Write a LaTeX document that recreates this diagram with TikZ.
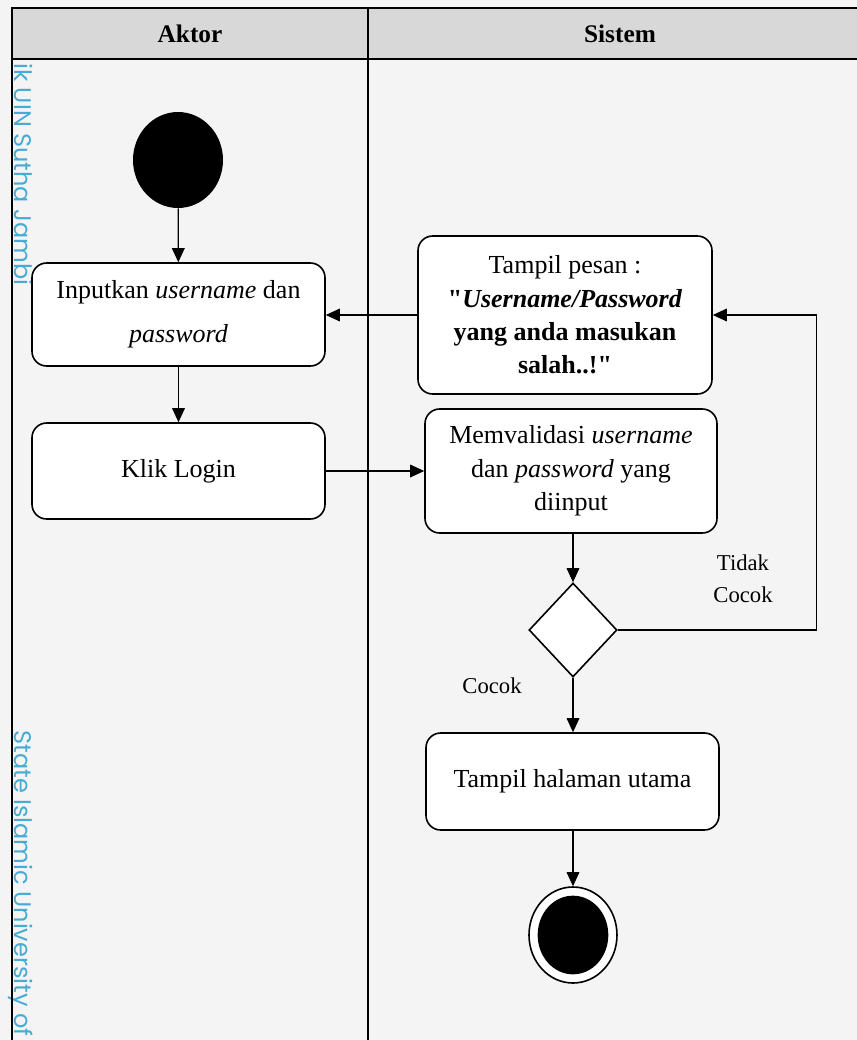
\documentclass[tikz,border=0pt]{standalone}
\usepackage{fontspec}
\setmainfont{Liberation Serif}[Ligatures=TeXOff]
\newfontfamily\wmfont{Poppins}
\usetikzlibrary{shapes.geometric, arrows.meta}

\definecolor{lanegray}{RGB}{244,244,244}
\definecolor{headgray}{RGB}{216,216,216}
\definecolor{wmblue}{RGB}{70,172,212}

\tikzset{
    activity/.style={draw, line width=1.2pt, fill=white, rounded corners=11pt, align=center,
        minimum width=219.75pt, inner sep=0pt, font=\fontsize{19.5}{25}\selectfont},
    flow/.style={line width=0.9pt, -{Triangle[length=10.5pt, width=9.5pt]}},
    label/.style={align=center, font=\fontsize{17}{24}\selectfont},
}

\begin{document}
\begin{tikzpicture}[x=0.75pt, y=-0.75pt]
    \useasboundingbox (0,0) rectangle (857,1040);
    \clip (0,0) rectangle (857,1040);
    \fill[lanegray] (0,0) rectangle (857,1040);

    % Watermark on the left edge
    \node[rotate=-90, anchor=base west, inner sep=0pt, text=wmblue, font=\wmfont\fontsize{18}{18}\selectfont] (wmtop) at (15,63) {ik UIN Sutha Jambi};
    \node[rotate=-90, anchor=base west, inner sep=0pt, text=wmblue, font=\wmfont\fontsize{18}{18}\selectfont] (wmbottom) at (15,730) {State Islamic University of};

    % Swimlanes
    \fill[headgray] (12,8) rectangle (872,59);
    \draw[line width=1.5pt] (12,1060) -- (12,8) -- (872,8);
    \draw[line width=1.5pt] (12,59) -- (872,59);
    \draw[line width=1.2pt] (368,8) -- (368,1060);
    \node[font=\bfseries\fontsize{19}{19}\selectfont] (aktor) at (190,34) {Aktor};
    \node[font=\bfseries\fontsize{19}{19}\selectfont] (sistem) at (620,34) {Sistem};

    % Aktor
    \node[ellipse, fill=black, minimum width=67.5pt, minimum height=72pt, inner sep=0pt] (start) at (178,160) {};
    \node[activity, minimum height=77.25pt, font=\fontsize{19.5}{33}\selectfont] (input) at (178.5,314.5) {Inputkan \textit{username} dan\\\textit{password}};
    \node[activity, minimum height=72pt] (klik) at (178.5,471) {Klik Login};

    % Sistem
    \node[activity, minimum width=220.5pt, minimum height=118.5pt] (pesan) at (565,315) {Tampil pesan :\\\textbf{"\textit{Username/Password}}\\\textbf{yang anda masukan}\\\textbf{salah..!"}};
    \node[activity, minimum width=219pt, minimum height=93pt] (valid) at (571,471) {Memvalidasi \textit{username}\\dan \textit{password} yang\\diinput};
    \node[diamond, draw, line width=1.2pt, fill=white, minimum width=66pt, minimum height=70.5pt, inner sep=0pt] (cek) at (573,630) {};
    \node[activity, minimum height=72.75pt] (utama) at (572.5,781.5) {Tampil halaman utama};
    \node[ellipse, draw, line width=1.2pt, fill=white, minimum width=66pt, minimum height=72pt, inner sep=0pt] (akhir) at (573,935) {};
    \node[ellipse, fill=black, minimum width=53pt, minimum height=59pt, inner sep=0pt] (akhirdot) at (akhir) {};

    % Flows
    \draw[flow] (start) -- (input);
    \draw[flow] (input) -- (klik);
    \draw[flow] (klik) -- (valid);
    \draw[flow] (pesan.west) -- (pesan.west -| input.east);
    \draw[flow] (valid.south -| cek.north) -- (cek.north);
    \draw[flow] (cek.east) -- ++(199,0) |- (pesan.east);
    \draw[flow] (cek.south) -- (cek.south |- utama.north);
    \draw[flow] (utama.south -| akhir.north) -- (akhir.north);

    % Guard labels
    \node[label] (tidak) at (743,579) {Tidak\\Cocok};
    \node[label] (cocok) at (492,686) {Cocok};
\end{tikzpicture}
\end{document}
